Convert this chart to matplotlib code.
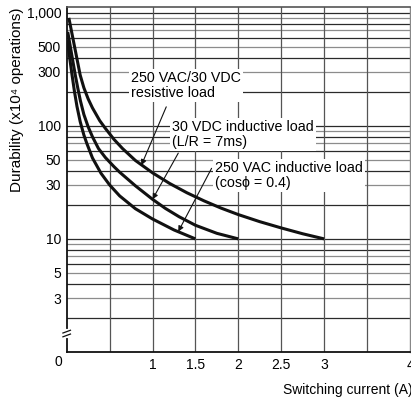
import matplotlib
matplotlib.use('Agg')
import matplotlib.pyplot as plt
from matplotlib.ticker import NullLocator

plt.rcParams['font.family'] = ['Liberation Sans', 'DejaVu Sans']

# Durability curves (x = switching current A, y = x10^4 operations)
resistive_x = [0.025, 0.06, 0.1, 0.157, 0.2, 0.25, 0.3, 0.385, 0.45, 0.55, 0.65, 0.8,
               1.0, 1.2, 1.4, 1.6, 1.8, 2.0, 2.25, 2.5, 2.75, 3.0]
resistive_y = [900, 661, 465, 281, 217, 173, 144, 111, 95, 76, 63, 49.4,
               38.4, 30.9, 25.6, 21.7, 18.7, 16.4, 14.2, 12.5, 11.1, 10]

dc_ind_x = [0.012, 0.05, 0.1, 0.13, 0.16, 0.2, 0.25, 0.3, 0.37, 0.45, 0.55, 0.617,
            0.8, 1.0, 1.15, 1.31, 1.5, 1.75, 2.0]
dc_ind_y = [677, 463, 281, 214, 166, 126, 98, 80, 63, 52.5, 43.6, 38.9,
            29.5, 22.4, 18.6, 15.7, 13.2, 11.2, 10]

ac_ind_x = [0.008, 0.035, 0.061, 0.09, 0.12, 0.157, 0.2, 0.234, 0.3, 0.4, 0.5, 0.617,
            0.8, 1.0, 1.25, 1.5]
ac_ind_y = [572, 398, 286, 202, 148, 109, 83, 70, 52, 38, 30, 24,
            18.5, 15, 12, 10]

ytick_vals = [3, 5, 10, 30, 50, 100, 300, 500, 1000]
ytick_labels = ['3', '5', '10', '30', '50', '100', '300', '500', '1,000']
xtick_vals = [1, 1.5, 2, 2.5, 3, 4]
xtick_labels = ['1', '1.5', '2', '2.5', '3', '4']
xgrid_vals = [0.5, 1, 1.5, 2, 2.5, 3, 3.5]

# horizontal rules: dark on 1,2,4,6,8 x10^n, light on 3,5,7,9
dark_mult = [1, 2, 4, 6, 8]
light_mult = [3, 5, 7, 9]
decades = [1, 10, 100]

fig = plt.figure(figsize=(4.11, 4.03), dpi=100)
ax = fig.add_axes([66.7 / 411, 1 - 352 / 403, (410 - 66.7) / 411, (352 - 6.7) / 403])

ax.set_xlim(0, 4)
ax.set_yscale('log')
ax.set_ylim(1, 1130)

for d in decades:
    for m in dark_mult:
        if m * d > 1:
            ax.axhline(m * d, color='#2a2a2a', lw=0.9, zorder=1)
    for m in light_mult:
        ax.axhline(m * d, color='#8c8c8c', lw=0.9, zorder=1)
ax.axhline(1000, color='#2a2a2a', lw=0.9, zorder=1)
for xv in xgrid_vals:
    ax.axvline(xv, color='#555555', lw=0.9, zorder=1)

for xs, ys in [(resistive_x, resistive_y), (dc_ind_x, dc_ind_y), (ac_ind_x, ac_ind_y)]:
    ax.plot(xs, ys, color='#111111', lw=2.2, solid_capstyle='butt',
            solid_joinstyle='round', zorder=4)

ax.set_yticks(ytick_vals)
ax.set_yticklabels(ytick_labels)
ax.yaxis.set_minor_locator(NullLocator())
ax.set_xticks(xtick_vals)
ax.set_xticklabels(xtick_labels)
ax.tick_params(length=0, labelsize=10, pad=4)

for s in ['left', 'bottom']:
    ax.spines[s].set_linewidth(1.3)
    ax.spines[s].set_color('#111111')
ax.spines['top'].set_color('#555555')
ax.spines['top'].set_linewidth(1.2)
ax.spines['right'].set_color('#888888')
ax.spines['right'].set_linewidth(1.0)

# origin label and axis break on the y axis
ax.text(-0.013, -0.029, '0', transform=ax.transAxes, ha='right', va='center', fontsize=10)
ax.plot([0, 0], [0.047, 0.060], transform=ax.transAxes, color='white', lw=3, clip_on=False, zorder=6)
ax.plot([-0.011, 0.011], [0.044, 0.052], transform=ax.transAxes, color='#111111', lw=0.9, clip_on=False, zorder=7)
ax.plot([-0.011, 0.011], [0.055, 0.063], transform=ax.transAxes, color='#111111', lw=0.9, clip_on=False, zorder=7)

box = dict(facecolor='white', edgecolor='none', pad=1.5)
txt = dict(transform=ax.transAxes, fontsize=10.3, ha='left', va='top', linespacing=1.1, bbox=box, zorder=3)
ax.text(0.187, 0.814, '250 VAC/30 VDC\nresistive load', **txt)
ax.text(0.307, 0.672, '30 VDC inductive load\n(L/R = 7ms)', **txt)
ax.text(0.432, 0.553, '250 VAC inductive load\n(cos\u03d5 = 0.4)', **txt)

arrow = dict(arrowstyle='-|>', color='#111111', lw=0.8, mutation_scale=8, shrinkA=0, shrinkB=0)
ax.annotate('', xy=(0.87, 44.8), xycoords='data', xytext=(0.29, 0.71), textcoords='axes fraction',
            arrowprops=arrow, zorder=5)
ax.annotate('', xy=(1.0, 22.4), xycoords='data', xytext=(0.325, 0.576), textcoords='axes fraction',
            arrowprops=arrow, zorder=5)
ax.annotate('', xy=(1.3, 11.6), xycoords='data', xytext=(0.422, 0.532), textcoords='axes fraction',
            arrowprops=arrow, zorder=5)

fig.text(17 / 411, 1 - 100 / 403, 'Durability (x10\u2074 operations)', rotation=90,
         ha='center', va='center', fontsize=11)
fig.text(1.003, 1 - 390 / 403, 'Switching current (A)', ha='right', va='center', fontsize=10)

fig.savefig('out.png', dpi=100)
